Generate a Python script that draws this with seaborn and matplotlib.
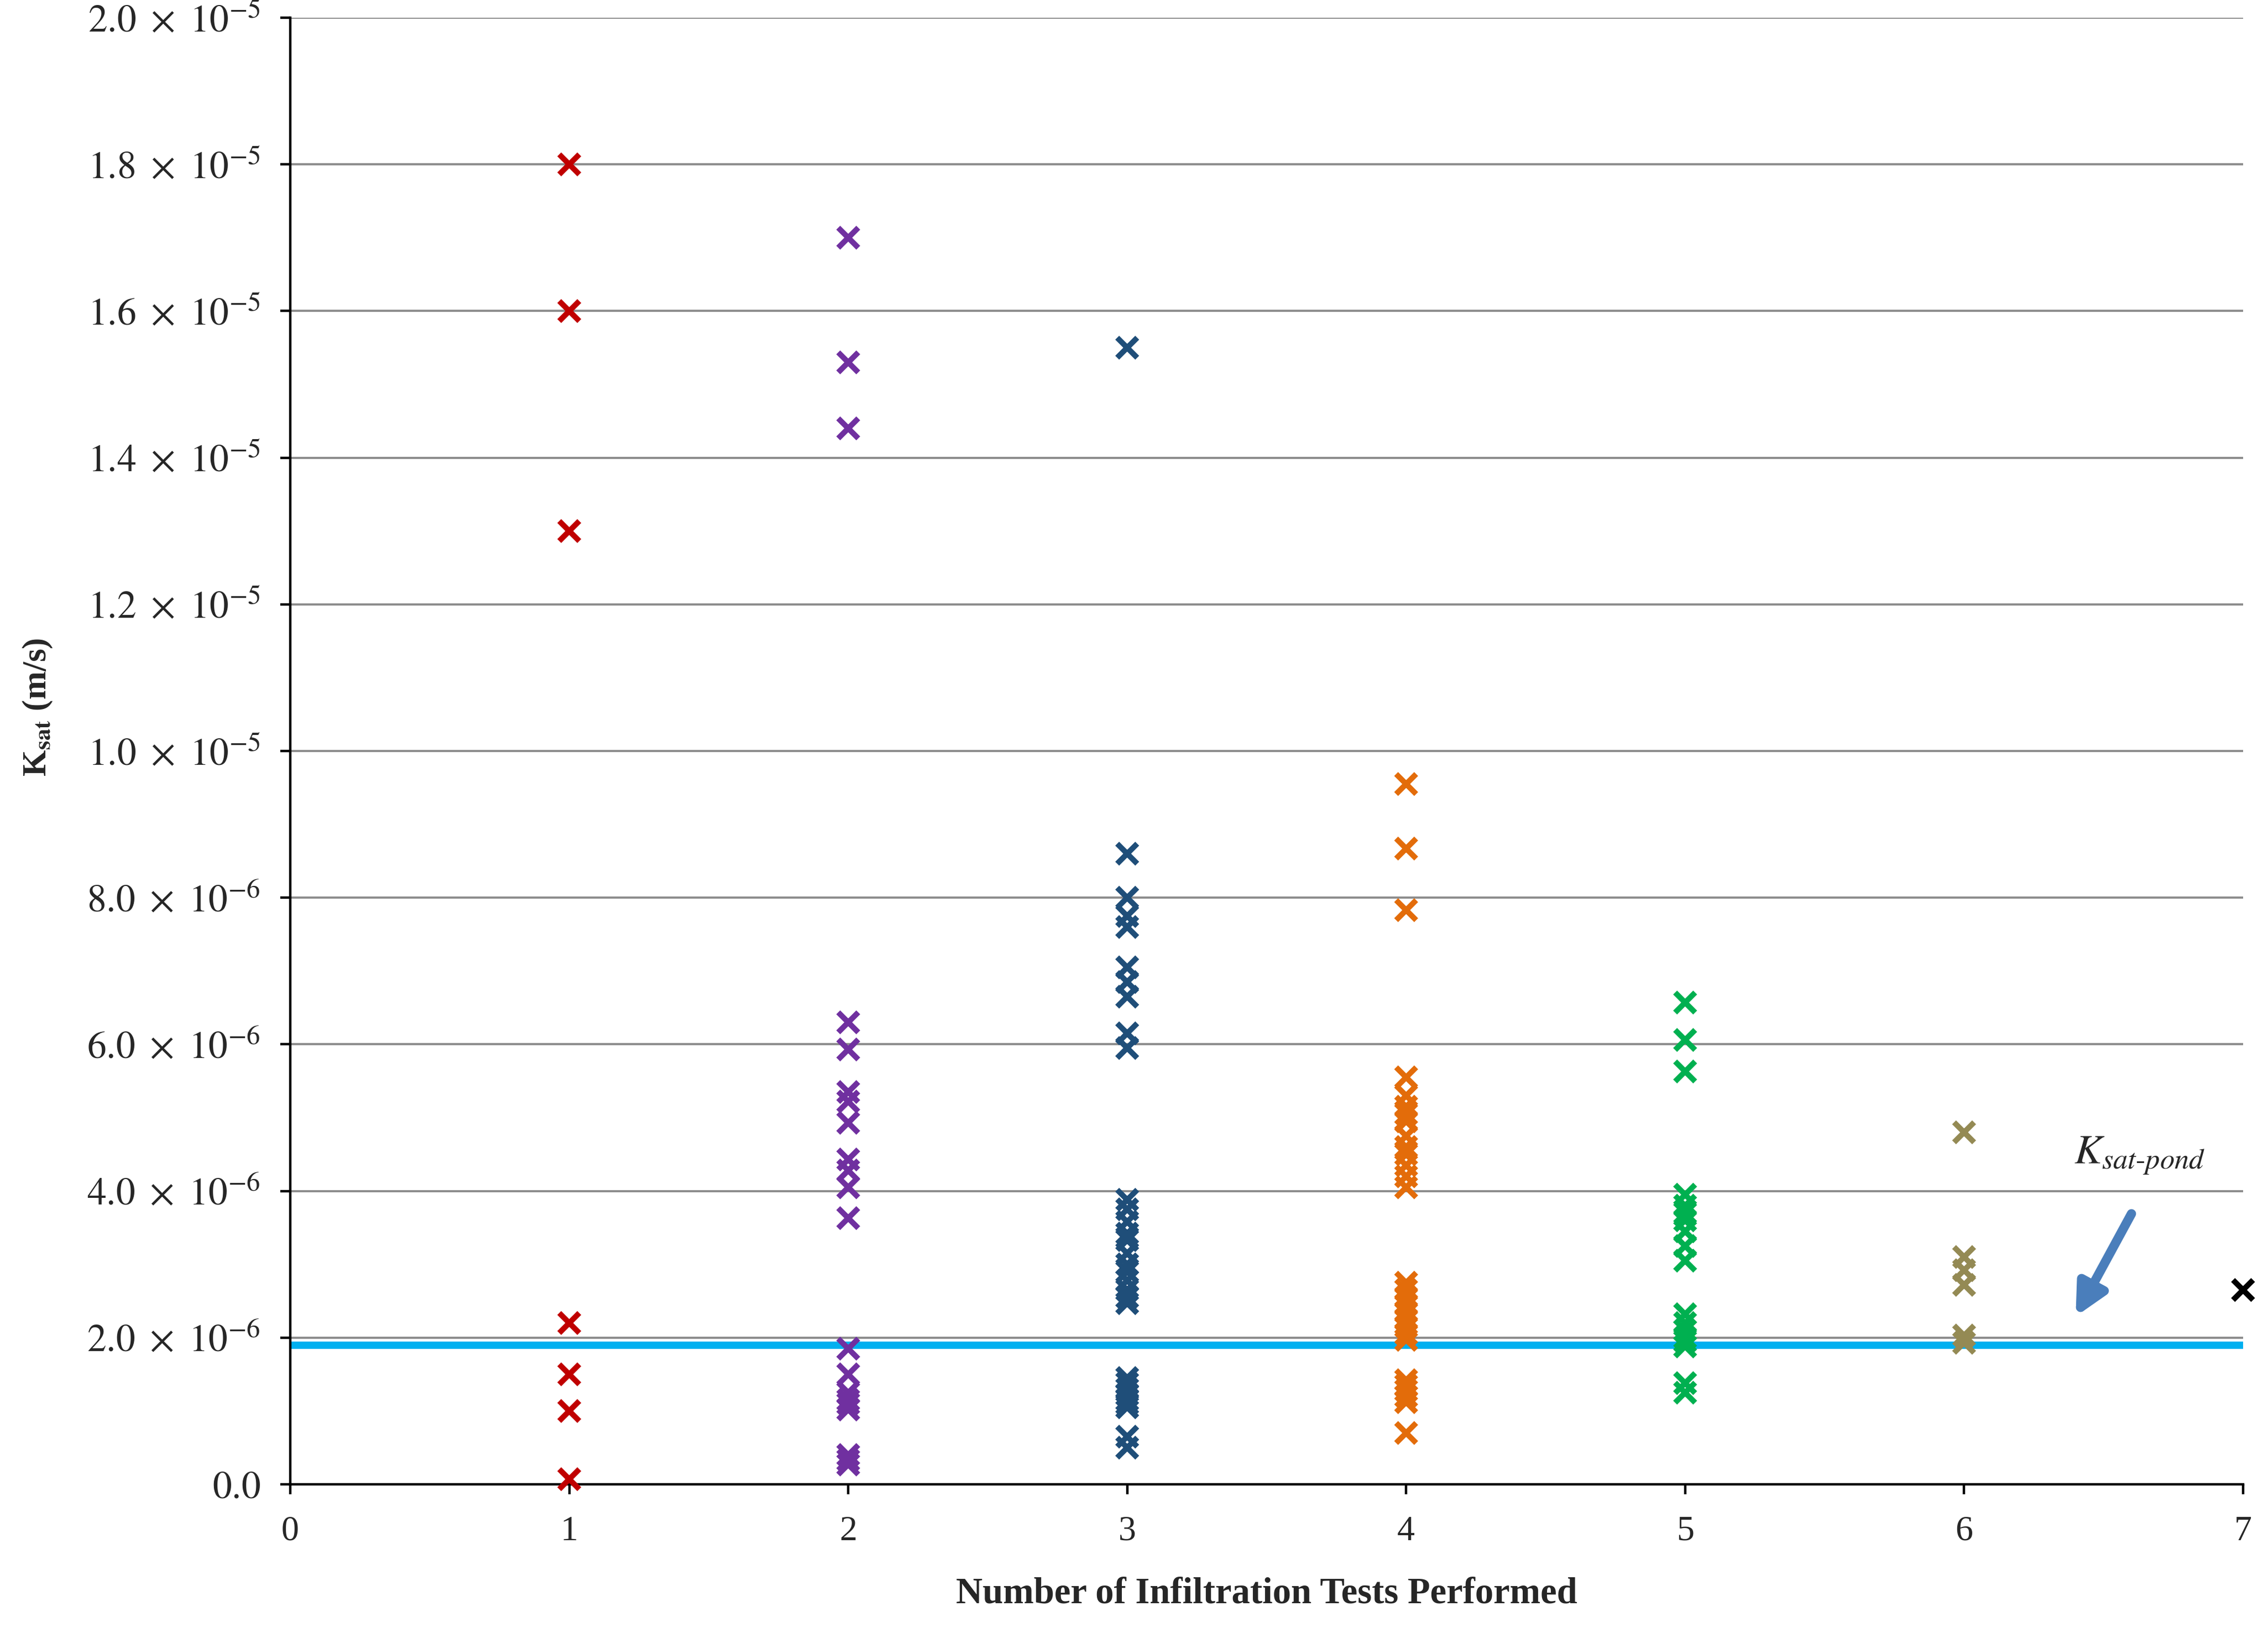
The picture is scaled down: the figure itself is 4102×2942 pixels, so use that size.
import numpy as np
import pandas as pd
import matplotlib
matplotlib.use("Agg")
import matplotlib.pyplot as plt
import seaborn as sns

# ---- data (values in m/s) ----
tests_1 = [18.0e-6, 16.0e-6, 13.0e-6, 2.2e-6, 1.5e-6, 1.0e-6, 0.07e-6]
tests_2 = [17.0e-6, 15.3e-6, 14.4e-6, 6.3e-6, 5.93e-6, 5.35e-6, 5.22e-6, 4.93e-6,
           4.43e-6, 4.28e-6, 4.05e-6, 3.63e-6, 1.85e-6, 1.5e-6, 1.25e-6, 1.15e-6,
           1.1e-6, 1.02e-6, 0.4e-6, 0.33e-6, 0.27e-6]
tests_3 = [15.5e-6, 8.6e-6, 8.0e-6, 7.75e-6, 7.6e-6, 7.05e-6, 6.85e-6, 6.65e-6,
           6.15e-6, 5.95e-6, 3.88e-6, 3.75e-6, 3.58e-6, 3.42e-6, 3.33e-6, 3.15e-6,
           3.0e-6, 2.9e-6, 2.78e-6, 2.65e-6, 2.55e-6, 2.47e-6, 1.45e-6, 1.38e-6,
           1.3e-6, 1.22e-6, 1.15e-6, 1.1e-6, 1.05e-6, 0.65e-6, 0.5e-6]
tests_4 = [9.55e-6, 8.67e-6, 7.83e-6, 5.55e-6, 5.3e-6, 5.15e-6, 5.05e-6, 4.95e-6,
           4.75e-6, 4.6e-6, 4.5e-6, 4.35e-6, 4.2e-6, 4.05e-6, 2.75e-6, 2.65e-6,
           2.55e-6, 2.45e-6, 2.35e-6, 2.25e-6, 2.15e-6, 2.05e-6, 1.97e-6, 1.42e-6,
           1.35e-6, 1.28e-6, 1.2e-6, 1.12e-6, 0.70e-6]
tests_5 = [6.57e-6, 6.06e-6, 5.63e-6, 3.95e-6, 3.8e-6, 3.7e-6, 3.6e-6, 3.45e-6,
           3.25e-6, 3.05e-6, 2.32e-6, 2.2e-6, 2.1e-6, 2.0e-6, 1.95e-6, 1.88e-6,
           1.38e-6, 1.25e-6]
tests_6 = [4.8e-6, 3.1e-6, 2.92e-6, 2.72e-6, 2.03e-6, 1.93e-6]
tests_7 = [2.65e-6]
ksat_pond = 1.9e-6

groups = [1, 2, 3, 4, 5, 6, 7]
series = [tests_1, tests_2, tests_3, tests_4, tests_5, tests_6, tests_7]
colors = ["#C00000", "#7030A0", "#1F4E79", "#E36C0A", "#00B050", "#948A54", "#000000"]

xticks = [0, 1, 2, 3, 4, 5, 6, 7]
yticks = [0, 2e-6, 4e-6, 6e-6, 8e-6, 1.0e-5, 1.2e-5, 1.4e-5, 1.6e-5, 1.8e-5, 2.0e-5]
ytick_labels = [r"$0.0$", r"$2.0\ \times\ 10^{-6}$", r"$4.0\ \times\ 10^{-6}$", r"$6.0\ \times\ 10^{-6}$",
                r"$8.0\ \times\ 10^{-6}$", r"$1.0\ \times\ 10^{-5}$", r"$1.2\ \times\ 10^{-5}$",
                r"$1.4\ \times\ 10^{-5}$", r"$1.6\ \times\ 10^{-5}$", r"$1.8\ \times\ 10^{-5}$",
                r"$2.0\ \times\ 10^{-5}$"]

df = pd.DataFrame({
    "n": np.concatenate([[g] * len(s) for g, s in zip(groups, series)]),
    "k": np.concatenate(series),
})

sns.set_theme(style="white")
plt.rcParams["font.family"] = ["Liberation Serif", "DejaVu Serif"]
plt.rcParams["mathtext.fontset"] = "stix"

fig = plt.figure(figsize=(20.51, 14.71), dpi=200)
ax = fig.add_axes([0.128, 0.0877, 0.861, 0.9014])

ax.set_axisbelow(True)
ax.yaxis.grid(True, color="#8C8C8C", linewidth=1.4)
ax.xaxis.grid(False)

ax.axhline(ksat_pond, color="#00B0F0", linewidth=4.8, zorder=2)

sns.scatterplot(data=df, x="n", y="k", hue="n", palette=colors, marker="x",
                s=170, linewidth=3.6, legend=False, ax=ax, zorder=3, clip_on=False)

ax.set_xlim(0, 7)
ax.set_ylim(0, 2.0e-5)
ax.set_xticks(xticks)
ax.set_xticklabels([str(v) for v in xticks])
ax.set_yticks(yticks)
ax.set_yticklabels(ytick_labels)

for s in ["top", "right"]:
    ax.spines[s].set_visible(False)
for s in ["left", "bottom"]:
    ax.spines[s].set_color("black")
    ax.spines[s].set_linewidth(1.6)

ax.tick_params(axis="y", which="major", direction="out", length=6.5, width=1.6,
               color="black", labelsize=25, pad=13, left=True)
ax.tick_params(axis="x", which="major", direction="out", length=6.5, width=1.6,
               color="black", labelsize=23, pad=14, bottom=True)

ax.set_xlabel("Number of Infiltration Tests Performed", fontsize=24, fontweight="bold")
ax.xaxis.set_label_coords(0.5, -0.063)
ax.set_ylabel(r"K$_{\mathbf{sat}}$ (m/s)", fontsize=22, fontweight="bold")
ax.yaxis.set_label_coords(-0.121, 0.53)

ax.annotate("", xy=(6.40, 2.29e-6), xytext=(6.60, 3.69e-6),
            arrowprops=dict(arrowstyle="-|>,head_length=1.4,head_width=0.7",
                            color="#4A7EBB", lw=6, shrinkA=0, shrinkB=0))
ax.text(6.63, 4.48e-6, r"$K_{sat\text{-}pond}$", fontsize=27, ha="center", va="center")

fig.savefig("out.png", dpi=200)
